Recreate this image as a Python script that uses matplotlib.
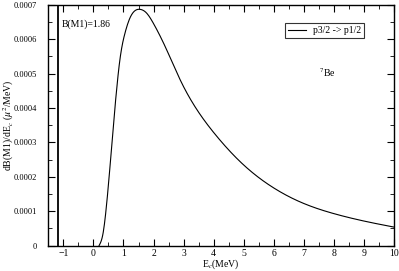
import matplotlib
matplotlib.use("Agg")
import matplotlib.pyplot as plt
import numpy as np
from matplotlib.ticker import MultipleLocator

# curve (E_c in MeV, dB/dE in mu^2/MeV)
e_c = [0.19, 0.32, 0.43, 0.55, 0.66, 0.77, 0.88, 1.05, 1.21, 1.38, 1.55,
       1.77, 1.99, 2.39, 2.89, 3.45, 4.08, 4.95, 5.95, 7.03, 8.01, 9.01, 10.0]
db_de = [0.0, 0.000035, 0.000112, 0.000228, 0.000345, 0.000452, 0.00054,
         0.000618, 0.000661, 0.000683, 0.000687, 0.000676, 0.000647,
         0.000578, 0.000481, 0.000394, 0.00032, 0.000238, 0.00017, 0.000121,
         0.0000924, 0.0000709, 0.0000535]
x_line = -1.18


def natural_spline(x, y, xn):
    x = np.asarray(x, float)
    y = np.asarray(y, float)
    n = len(x)
    h = np.diff(x)
    A = np.zeros((n, n))
    b = np.zeros(n)
    A[0, 0] = A[-1, -1] = 1.0
    for i in range(1, n - 1):
        A[i, i - 1] = h[i - 1]
        A[i, i] = 2 * (h[i - 1] + h[i])
        A[i, i + 1] = h[i]
        b[i] = 6 * ((y[i + 1] - y[i]) / h[i] - (y[i] - y[i - 1]) / h[i - 1])
    M = np.linalg.solve(A, b)
    k = np.clip(np.searchsorted(x, xn) - 1, 0, n - 2)
    hk = h[k]
    a = (x[k + 1] - xn) / hk
    c = (xn - x[k]) / hk
    return (a * y[k] + c * y[k + 1]
            + ((a**3 - a) * M[k] + (c**3 - c) * M[k + 1]) * hk**2 / 6)


plt.rcParams['font.family'] = ['Liberation Serif', 'DejaVu Serif']
plt.rcParams['mathtext.fontset'] = 'stix'

fig = plt.figure(figsize=(3.99, 2.71), dpi=100)
ax = fig.add_axes([0.121, 0.094, 0.867, 0.888])

t = np.linspace(e_c[0], e_c[-1], 500)
yt = np.clip(natural_spline(e_c, db_de, t), 0, None)

ax.plot(t, yt, color='black', lw=0.8, label='p3/2 -> p1/2')
ax.axvline(x_line, color='black', lw=1.3)

ax.set_xlim(-1.5, 10)
ax.set_ylim(0, 0.0007)
ax.xaxis.set_major_locator(MultipleLocator(1))
ax.xaxis.set_minor_locator(MultipleLocator(0.5))
ax.yaxis.set_major_locator(MultipleLocator(0.0001))
ax.yaxis.set_minor_locator(MultipleLocator(0.00005))
ax.yaxis.set_major_formatter(plt.FuncFormatter(lambda v, p: '0' if v == 0 else '%.4f' % v))
ax.tick_params(which='both', direction='in', top=True, right=True)
ax.tick_params(axis='x', pad=2.5, labelsize=7)
ax.tick_params(axis='y', pad=8, labelsize=6)
ax.tick_params(which='major', length=5)
ax.tick_params(which='minor', length=3)
for sp in ax.spines.values():
    sp.set_linewidth(1.0)

ax.set_xlabel('E$_c$(MeV)', fontsize=7)
ax.set_ylabel('dB(M1)/dE$_c$ ($\\mu^2$/MeV)', fontsize=7)
ax.xaxis.set_label_coords(0.5, -0.05)
ax.yaxis.set_label_coords(-0.094, 0.5)

ax.text(-1.06, 0.000645, 'B(M1)=1.86', fontsize=7, va='center', ha='left')
ax.text(7.5, 0.000502, '$^7$Be', fontsize=7, va='center', ha='left')

leg = ax.legend(loc='upper right', bbox_to_anchor=(0.913, 0.926), fontsize=7,
                frameon=True, fancybox=False, edgecolor='black', handlelength=1.8,
                borderpad=0.35, handletextpad=0.7, borderaxespad=0)
leg.get_frame().set_linewidth(0.8)

fig.savefig('out.png', dpi=100)
